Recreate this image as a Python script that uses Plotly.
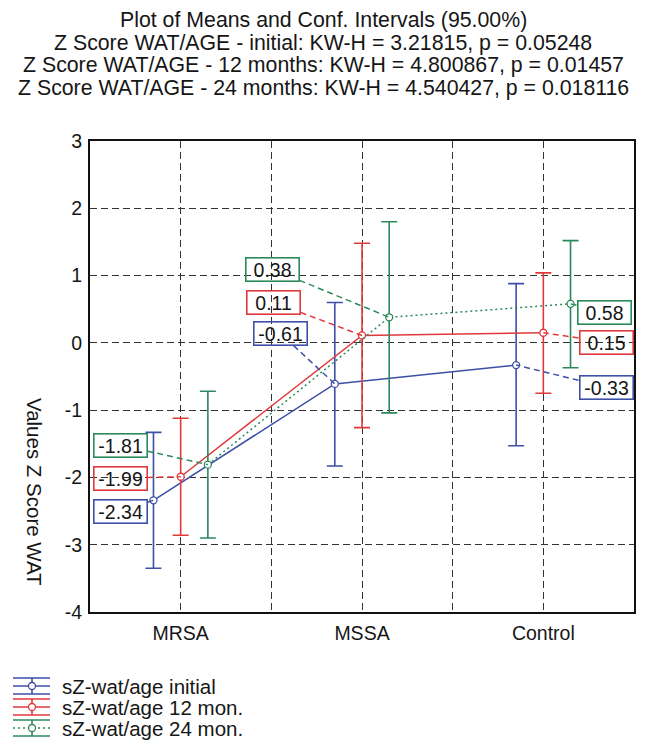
import plotly.graph_objects as go

# ---------------- data ----------------
categories = ["MRSA", "MSSA", "Control"]
series_names = ["sZ-wat/age initial", "sZ-wat/age 12 mon.", "sZ-wat/age 24 mon."]

means_initial = [-2.34, -0.61, -0.33]
ci_low_initial = [-3.35, -1.83, -1.53]
ci_high_initial = [-1.33, 0.60, 0.88]

means_12 = [-1.99, 0.11, 0.15]
ci_low_12 = [-2.86, -1.26, -0.75]
ci_high_12 = [-1.12, 1.48, 1.04]

means_24 = [-1.81, 0.38, 0.58]
ci_low_24 = [-2.90, -1.04, -0.37]
ci_high_24 = [-0.72, 1.80, 1.52]

title_lines = [
    "Plot of Means and Conf. Intervals (95.00%)",
    "Z Score WAT/AGE - initial: KW-H = 3.21815, p = 0.05248",
    "Z Score WAT/AGE - 12 months: KW-H = 4.800867, p = 0.01457",
    "Z Score WAT/AGE - 24 months: KW-H = 4.540427, p = 0.018116",
]
y_title = "Values Z Score WAT"
y_ticks = [-4, -3, -2, -1, 0, 1, 2, 3]

# ---------------- styles / layout geometry ----------------
FONT = "Liberation Sans, Arial, Helvetica, sans-serif"
TXT = "#161616"
colors = ["#3d4fa6", "#e0393b", "#2b8a5c"]
dashes = ["solid", "solid", "2px,3px"]
offsets = [-0.15, 0.0, 0.15]

W, H = 647, 755
L, R, T, B = 90, 634, 141, 612
PW, PH = R - L, B - T
XR = (-0.5, 2.5)
YR = (-4, 3)


def px2data(px, py):
    x = XR[0] + (px - L) / PW * (XR[1] - XR[0])
    y = YR[1] - (py - T) / PH * (YR[1] - YR[0])
    return x, y


def px2paper(px, py):
    return (px - L) / PW, (B - py) / PH


# label box centers in pixels for each series / category
label_px = [
    [(120, 511), (280, 333), (606, 387)],
    [(120, 478), (273, 302), (606, 342)],
    [(120, 445), (272, 269), (604, 312)],
]
BOX_HW, BOX_HH = 27.5, 12.5  # px half sizes

all_means = [means_initial, means_12, means_24]
all_low = [ci_low_initial, ci_low_12, ci_low_24]
all_high = [ci_high_initial, ci_high_12, ci_high_24]

fig = go.Figure()

shapes = []
annotations = []

for s in range(3):
    xs = [i + offsets[s] for i in range(len(categories))]
    m = all_means[s]
    plus = [h - v for h, v in zip(all_high[s], m)]
    minus = [v - lo for v, lo in zip(m, all_low[s])]
    fig.add_trace(go.Scatter(
        x=xs, y=m, mode="lines+markers", name=series_names[s],
        line=dict(color=colors[s], width=1.5, dash=dashes[s]),
        marker=dict(symbol="circle", size=7, color="white",
                    line=dict(color=colors[s], width=1.3)),
        error_y=dict(type="data", symmetric=False, array=plus, arrayminus=minus,
                     color=colors[s], thickness=1.6, width=8),
        showlegend=False,
    ))

    for i in range(len(categories)):
        ppx = L + (xs[i] - XR[0]) / (XR[1] - XR[0]) * PW
        ppy = T + (YR[1] - m[i]) / (YR[1] - YR[0]) * PH
        cx, cy = label_px[s][i]
        dx, dy = ppx - cx, ppy - cy
        sx = BOX_HW / abs(dx) if dx != 0 else 1e9
        sy = BOX_HH / abs(dy) if dy != 0 else 1e9
        sc = min(sx, sy)
        if sc < 1:
            ex, ey = cx + sc * dx, cy + sc * dy
            x0, y0 = px2data(ex, ey)
            shapes.append(dict(type="line", xref="x", yref="y",
                               x0=x0, y0=y0, x1=xs[i], y1=m[i],
                               line=dict(color=colors[s], width=1.5, dash="6px,4px"),
                               layer="above"))
        ax, ay = px2data(cx, cy)
        annotations.append(dict(
            xref="x", yref="y", x=ax, y=ay, text=f"{m[i]:.2f}", showarrow=False,
            font=dict(family=FONT, size=19.5, color=TXT),
            bordercolor=colors[s], borderwidth=1.6, borderpad=1,
            width=50, height=20, bgcolor="rgba(0,0,0,0)",
            xanchor="center", yanchor="middle", align="center",
        ))

# title lines
title_y = [20, 43, 65, 88]
for t, py in zip(title_lines, title_y):
    xp, yp = px2paper(323, py)
    annotations.append(dict(xref="paper", yref="paper", x=xp, y=yp, text=t,
                            showarrow=False, xanchor="center", yanchor="middle",
                            font=dict(family=FONT, size=21.3, color=TXT)))

# rotated y-axis title (reads top to bottom)
xp, yp = px2paper(35, 492)
annotations.append(dict(xref="paper", yref="paper", x=xp, y=yp, text=y_title,
                        showarrow=False, textangle=90, xanchor="center", yanchor="middle",
                        font=dict(family=FONT, size=20.5, color=TXT)))

# manual legend
legend_rows = [686, 707, 728]
for s in range(3):
    py = legend_rows[s]
    gx0, gx1, gxc = 13, 50, 32
    for yy in (py - 8, py + 8):
        a = px2paper(gx0, yy)
        b = px2paper(gx1, yy)
        shapes.append(dict(type="line", xref="paper", yref="paper",
                           x0=a[0], y0=a[1], x1=b[0], y1=b[1],
                           line=dict(color=colors[s], width=1.6)))
    a = px2paper(gx0, py)
    b = px2paper(gx1, py)
    shapes.append(dict(type="line", xref="paper", yref="paper",
                       x0=a[0], y0=a[1], x1=b[0], y1=b[1],
                       line=dict(color=colors[s], width=1.5, dash=dashes[s])))
    a = px2paper(gxc, py - 8)
    b = px2paper(gxc, py + 8)
    shapes.append(dict(type="line", xref="paper", yref="paper",
                       x0=a[0], y0=a[1], x1=b[0], y1=b[1],
                       line=dict(color=colors[s], width=1.6)))
    a = px2paper(gxc - 3.5, py - 3.5)
    b = px2paper(gxc + 3.5, py + 3.5)
    shapes.append(dict(type="circle", xref="paper", yref="paper",
                       x0=a[0], y0=a[1], x1=b[0], y1=b[1],
                       fillcolor="white", line=dict(color=colors[s], width=1.3)))
    tx, ty = px2paper(60, py)
    annotations.append(dict(xref="paper", yref="paper", x=tx, y=ty,
                            text=series_names[s], showarrow=False,
                            xanchor="left", yanchor="middle",
                            font=dict(family=FONT, size=20.5, color=TXT)))

tickvals_x = [0, 0.5, 1, 1.5, 2]
ticktext_x = [categories[0], "", categories[1], "", categories[2]]

fig.update_layout(
    width=W, height=H,
    margin=dict(l=L, r=W - R, t=T, b=H - B, pad=0),
    paper_bgcolor="white", plot_bgcolor="white",
    showlegend=False,
    shapes=shapes, annotations=annotations,
    font=dict(family=FONT, color=TXT),
    xaxis=dict(range=list(XR), tickvals=tickvals_x, ticktext=ticktext_x,
               showgrid=True, gridcolor="#333333", gridwidth=1.4, griddash="7px,4px",
               zeroline=False, showline=True, mirror=True, linecolor="#111",
               linewidth=2, ticks="", tickfont=dict(family=FONT, size=19.5, color=TXT),
               ticklabelstandoff=3, fixedrange=True),
    yaxis=dict(range=list(YR), tickvals=y_ticks, ticktext=[str(v) for v in y_ticks],
               showgrid=True, gridcolor="#333333", gridwidth=1.4, griddash="7px,4px",
               zeroline=False, showline=True, mirror=True, linecolor="#111",
               linewidth=2, ticks="", tickfont=dict(family=FONT, size=19.5, color=TXT),
               ticklabelstandoff=2, fixedrange=True),
)

fig.write_html("out.html")
